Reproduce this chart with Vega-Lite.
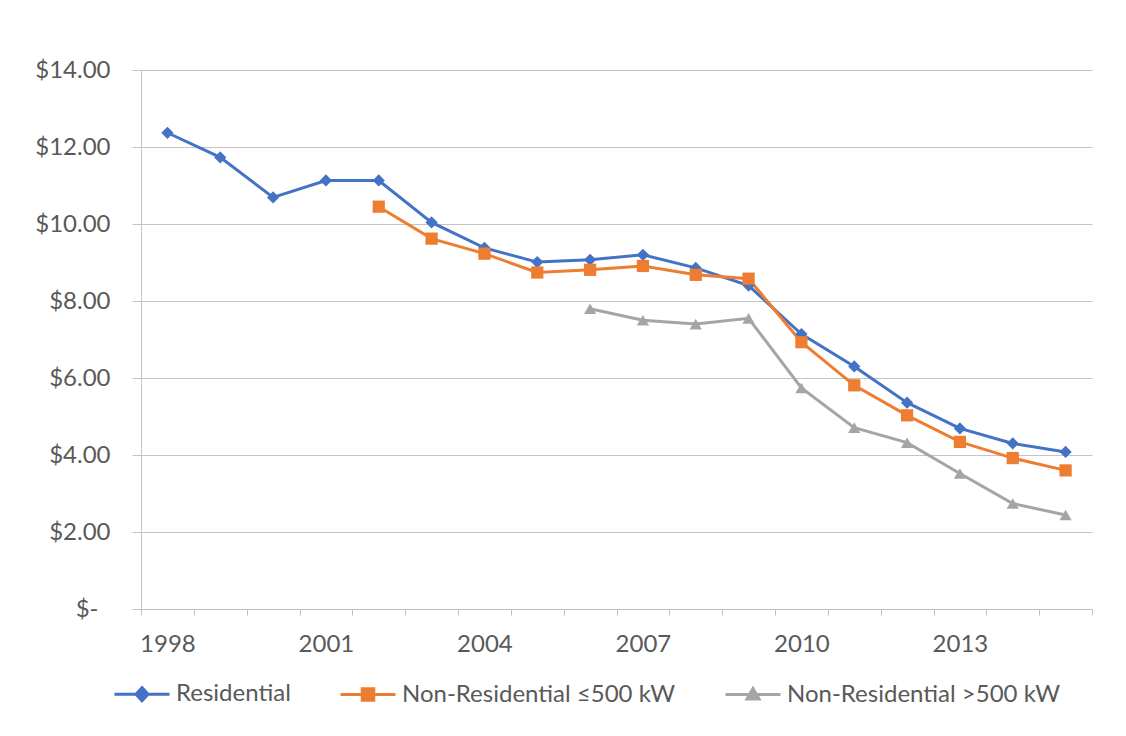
{
  "$schema": "https://vega.github.io/schema/vega-lite/v6.json",
  "width": 951,
  "height": 539,
  "autosize": {"type": "none"},
  "padding": {"left": 141, "top": 70, "right": 34, "bottom": 127},
  "background": "white",
  "config": {
    "font": "Lato",
    "view": {"stroke": null}
  },
  "data": {
    "values": [
      {"year": 1998, "series": "Residential", "price": 12.37},
      {"year": 1999, "series": "Residential", "price": 11.73},
      {"year": 2000, "series": "Residential", "price": 10.69},
      {"year": 2001, "series": "Residential", "price": 11.13},
      {"year": 2002, "series": "Residential", "price": 11.13},
      {"year": 2003, "series": "Residential", "price": 10.04},
      {"year": 2004, "series": "Residential", "price": 9.38},
      {"year": 2005, "series": "Residential", "price": 9.01},
      {"year": 2006, "series": "Residential", "price": 9.07},
      {"year": 2007, "series": "Residential", "price": 9.2},
      {"year": 2008, "series": "Residential", "price": 8.86},
      {"year": 2009, "series": "Residential", "price": 8.4},
      {"year": 2010, "series": "Residential", "price": 7.14},
      {"year": 2011, "series": "Residential", "price": 6.3},
      {"year": 2012, "series": "Residential", "price": 5.36},
      {"year": 2013, "series": "Residential", "price": 4.69},
      {"year": 2014, "series": "Residential", "price": 4.3},
      {"year": 2015, "series": "Residential", "price": 4.08},
      {"year": 2002, "series": "Non-Residential ≤500 kW", "price": 10.45},
      {"year": 2003, "series": "Non-Residential ≤500 kW", "price": 9.62},
      {"year": 2004, "series": "Non-Residential ≤500 kW", "price": 9.23},
      {"year": 2005, "series": "Non-Residential ≤500 kW", "price": 8.74},
      {"year": 2006, "series": "Non-Residential ≤500 kW", "price": 8.81},
      {"year": 2007, "series": "Non-Residential ≤500 kW", "price": 8.91},
      {"year": 2008, "series": "Non-Residential ≤500 kW", "price": 8.68},
      {"year": 2009, "series": "Non-Residential ≤500 kW", "price": 8.58},
      {"year": 2010, "series": "Non-Residential ≤500 kW", "price": 6.93},
      {"year": 2011, "series": "Non-Residential ≤500 kW", "price": 5.81},
      {"year": 2012, "series": "Non-Residential ≤500 kW", "price": 5.03},
      {"year": 2013, "series": "Non-Residential ≤500 kW", "price": 4.34},
      {"year": 2014, "series": "Non-Residential ≤500 kW", "price": 3.92},
      {"year": 2015, "series": "Non-Residential ≤500 kW", "price": 3.6},
      {"year": 2006, "series": "Non-Residential >500 kW", "price": 7.8},
      {"year": 2007, "series": "Non-Residential >500 kW", "price": 7.5},
      {"year": 2008, "series": "Non-Residential >500 kW", "price": 7.4},
      {"year": 2009, "series": "Non-Residential >500 kW", "price": 7.55},
      {"year": 2010, "series": "Non-Residential >500 kW", "price": 5.74},
      {"year": 2011, "series": "Non-Residential >500 kW", "price": 4.71},
      {"year": 2012, "series": "Non-Residential >500 kW", "price": 4.32},
      {"year": 2013, "series": "Non-Residential >500 kW", "price": 3.52},
      {"year": 2014, "series": "Non-Residential >500 kW", "price": 2.74},
      {"year": 2015, "series": "Non-Residential >500 kW", "price": 2.44}
    ]
  },
  "encoding": {
    "x": {
      "field": "year",
      "type": "ordinal",
      "scale": {"type": "band", "paddingInner": 0, "paddingOuter": 0},
      "axis": {
        "title": null,
        "tickBand": "extent",
        "labelAngle": 0,
        "labelOverlap": false,
        "labelExpr": "(+datum.value - 1998) % 3 === 0 ? datum.label : ''",
        "tickSize": 6,
        "tickColor": "#bfbfbf",
        "domainColor": "#bfbfbf",
        "grid": false,
        "labelPadding": 17,
        "labelFontSize": 24,
        "labelColor": "#595959"
      }
    },
    "y": {
      "field": "price",
      "type": "quantitative",
      "scale": {"domain": [0, 14], "nice": false},
      "axis": {
        "title": null,
        "values": [0, 2, 4, 6, 8, 10, 12, 14],
        "labelExpr": "datum.value === 0 ? '$-' : '$' + format(datum.value, '.2f')",
        "tickSize": 9,
        "tickColor": "#c4c4c4",
        "domainColor": "#c4c4c4",
        "gridColor": "#c4c4c4",
        "grid": true,
        "labelPadding": {"condition": {"test": "datum.value === 0", "value": 34}, "value": 22},
        "labelFontSize": 24,
        "labelColor": "#595959"
      }
    },
    "color": {
      "field": "series",
      "type": "nominal",
      "scale": {
        "domain": ["Residential", "Non-Residential ≤500 kW", "Non-Residential >500 kW"],
        "range": ["#4472C4", "#ED7D31", "#A5A5A5"]
      },
      "legend": null
    }
  },
  "layer": [
    {
      "mark": {"type": "line", "strokeWidth": 3},
      "encoding": {
        "color": {
          "field": "series",
          "type": "nominal",
          "scale": {
            "domain": ["Residential", "Non-Residential ≤500 kW", "Non-Residential >500 kW"],
            "range": ["#4472C4", "#ED7D31", "#A5A5A5"]
          },
          "legend": {
            "title": null,
            "orient": "none",
            "direction": "horizontal",
            "columns": 3,
            "legendX": -28,
            "legendY": 595,
            "padding": 0,
            "symbolSize": 3025,
            "symbolStrokeWidth": 3,
            "labelFontSize": 24,
            "labelColor": "#595959",
            "labelOffset": 5,
            "labelLimit": 500,
            "columnPadding": 43,
            "encode": {
              "symbols": {
                "update": {
                  "shape": {"signal": "datum.value === 'Residential' ? 'M-1,0H1M0,-0.24L0.22,0L0,0.24L-0.22,0Z' : datum.value === 'Non-Residential >500 kW' ? 'M-1,0H1M0,-0.22L0.22,0.16H-0.22Z' : 'M-1,0H1M-0.21,-0.21H0.21V0.21H-0.21Z'"},
                  "fill": {"signal": "datum.value === 'Residential' ? '#4472C4' : datum.value === 'Non-Residential >500 kW' ? '#A5A5A5' : '#ED7D31'"},
                  "opacity": {"value": 1}
                }
              }
            }
          }
        }
      }
    },
    {
      "transform": [{"filter": "datum.series === 'Residential'"}],
      "mark": {"type": "point", "shape": "diamond", "filled": true, "opacity": 1, "size": 150}
    },
    {
      "transform": [{"filter": "datum.series === 'Non-Residential ≤500 kW'"}],
      "mark": {"type": "point", "shape": "square", "filled": true, "opacity": 1, "size": 150}
    },
    {
      "transform": [{"filter": "datum.series === 'Non-Residential >500 kW'"}],
      "mark": {"type": "point", "shape": "triangle-up", "filled": true, "opacity": 1, "size": 150}
    }
  ]
}
